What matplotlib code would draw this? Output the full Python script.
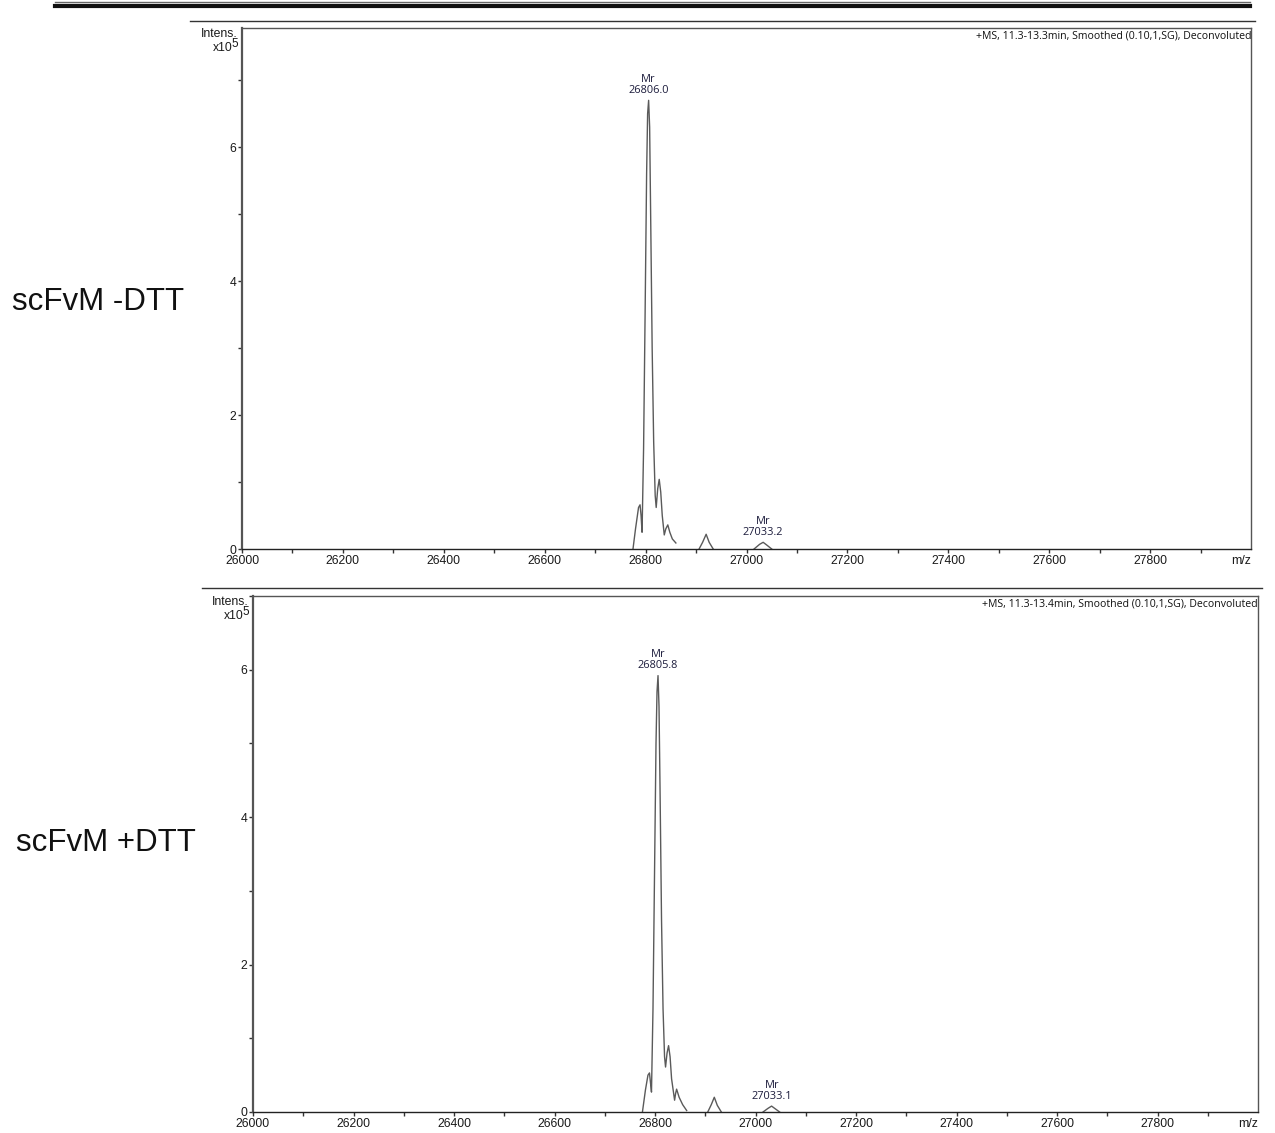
import matplotlib
matplotlib.use('Agg')
import matplotlib.pyplot as plt
from matplotlib.lines import Line2D
import numpy as np

plt.rcParams['font.family'] = ['Liberation Sans', 'DejaVu Sans']

# deconvoluted spectra, mass (Da) vs intensity (x10^5); nan splits separate traces
mass_minus = [26775, 26780, 26786, 26789, 26791, 26793, 26796, 26799, 26802, 26804,
              26806, 26808, 26810, 26813, 26816, 26819, 26821, 26824, 26827, 26830,
              26833, 26837, 26840, 26844, 26848, 26853, 26860, np.nan,
              26906, 26913, 26920, 26926, 26934, np.nan,
              27015, 27026, 27033, 27040, 27050]
int_minus = [0.0, 0.3, 0.62, 0.66, 0.5, 0.25, 1.5, 3.5, 5.6, 6.5,
             6.70, 6.3, 5.0, 3.0, 1.6, 0.8, 0.62, 0.9, 1.04, 0.85,
             0.5, 0.21, 0.3, 0.36, 0.25, 0.15, 0.09, np.nan,
             0.0, 0.1, 0.22, 0.1, 0.0, np.nan,
             0.0, 0.07, 0.1, 0.06, 0.0]

mass_plus = [26775, 26781, 26786, 26789, 26791, 26793, 26796, 26799, 26802, 26804,
             26806, 26808, 26810, 26813, 26816, 26819, 26821, 26824, 26827, 26830,
             26833, 26839, 26841, 26843, 26848, 26855, 26863, np.nan,
             26905, 26912, 26918, 26924, 26932, np.nan,
             27015, 27025, 27032, 27040, 27048]
int_plus = [0.0, 0.3, 0.5, 0.53, 0.4, 0.27, 1.4, 3.2, 5.0, 5.7,
            5.92, 5.5, 4.4, 2.6, 1.4, 0.75, 0.61, 0.8, 0.9, 0.75,
            0.45, 0.16, 0.25, 0.31, 0.2, 0.1, 0.02, np.nan,
            0.0, 0.1, 0.2, 0.09, 0.0, np.nan,
            0.0, 0.05, 0.08, 0.04, 0.0]

# labelled peaks: (mass, intensity, text)
peaks_minus = [(26806.0, 6.70, '26806.0'), (27033.2, 0.10, '27033.2')]
peaks_plus = [(26805.8, 5.92, '26805.8'), (27033.1, 0.08, '27033.1')]

headers = ['+MS, 11.3-13.3min, Smoothed (0.10,1,SG), Deconvoluted',
           '+MS, 11.3-13.4min, Smoothed (0.10,1,SG), Deconvoluted']
samples = ['scFvM -DTT', 'scFvM +DTT']
xticks = list(range(26000, 28000, 200))

W, H = 1275, 1133
fig = plt.figure(figsize=(W / 100, H / 100), dpi=100)
small = ['Open Sans', 'DejaVu Sans']

def px(x, y):
    return x / W, 1 - y / H

def panel(rect, mass, inten, peaks, header, ytop):
    ax = fig.add_axes(rect)
    ax.plot(mass, inten, color='#5a5a5a', lw=1.0)
    ax.set_xlim(26000, 28000)
    ax.set_ylim(0, ytop)
    ax.set_xticks(xticks)
    ax.set_xticklabels([str(t) for t in xticks])
    ax.set_xticks(range(26100, 28000, 200), minor=True)
    ax.set_yticks([0, 2, 4, 6])
    ax.set_yticks([1, 3, 5, 7], minor=True)
    ax.tick_params(which='both', direction='out', length=3, width=1,
                   labelsize=8.8, pad=1, colors='#333333', labelcolor='#1a1a1a')
    for s in ['top', 'right']:
        ax.spines[s].set_color('#555555')
        ax.spines[s].set_linewidth(1.0)
    ax.spines['left'].set_color('#555555')
    ax.spines['left'].set_linewidth(1.6)
    ax.spines['bottom'].set_color('#222222')
    ax.spines['bottom'].set_linewidth(1.0)
    ax.text(1.0, 0.995, header, transform=ax.transAxes, ha='right', va='top',
            fontsize=7.55, family=small, color='#111111')
    ax.text(1.0, -0.012, 'm/z', transform=ax.transAxes, ha='right', va='top',
            fontsize=8.8, color='#1a1a1a')
    # y-axis unit label, superscript drawn as its own text
    ax.annotate('Intens.', xy=(0, 1), xycoords='axes fraction', xytext=(-3, 0),
                textcoords='offset points', ha='right', va='top', fontsize=8.8,
                color='#1a1a1a')
    ax.annotate('x10', xy=(0, 1), xycoords='axes fraction', xytext=(-6.5, -10),
                textcoords='offset points', ha='right', va='top', fontsize=8.8,
                color='#1a1a1a')
    ax.annotate('5', xy=(0, 1), xycoords='axes fraction', xytext=(-2.5, -7.5),
                textcoords='offset points', ha='right', va='top', fontsize=8.5,
                color='#1a1a1a')
    for m, h, lab in peaks:
        ax.annotate('Mr\n' + lab, xy=(m, h), xytext=(0, 3), textcoords='offset points',
                    ha='center', va='bottom', fontsize=7.9, linespacing=1.0,
                    family=small, color='#1c1c3c')
    return ax

x0, y1 = px(242, 28)
x1, y0 = px(1251, 549)
panel([x0, y0, x1 - x0, y1 - y0], mass_minus, int_minus, peaks_minus, headers[0], 7.78)

x0, y1 = px(253, 596)
x1, y0 = px(1258, 1112)
panel([x0, y0, x1 - x0, y1 - y0], mass_plus, int_plus, peaks_plus, headers[1], 7.0)

# separator rules
for (xa, xb, y, lw, c) in [(55, 1250, 2, 1.0, '#666666'), (55, 1250, 6, 3.0, '#111111'),
                           (190, 1255, 21, 1.0, '#333333'), (202, 1262, 588, 1.0, '#333333')]:
    fig.add_artist(Line2D([xa / W, xb / W], [1 - y / H, 1 - y / H], lw=lw, color=c))

fig.text(*px(12, 302), samples[0], ha='left', va='center', fontsize=22.5, color='#111111')
fig.text(*px(16, 843), samples[1], ha='left', va='center', fontsize=22.5, color='#111111')

fig.savefig('out.png', dpi=100)
